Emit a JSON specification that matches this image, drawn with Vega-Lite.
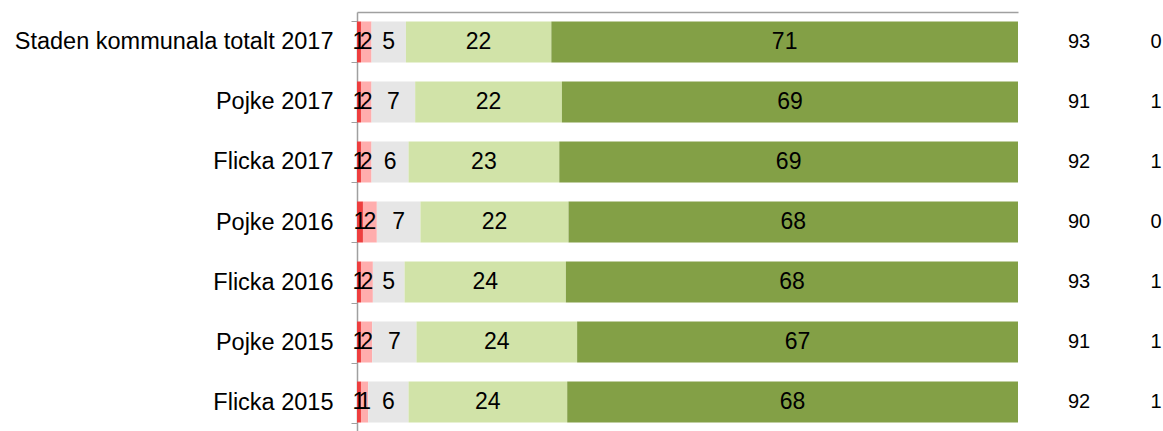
{
  "$schema": "https://vega.github.io/schema/vega-lite/v6.json",
  "padding": {"left": 14, "top": 0, "right": 0, "bottom": 0},
  "config": {"view": {"stroke": null}, "font": "Liberation Sans"},
  "spacing": 61,
  "bounds": "flush",
  "datasets": {
    "bars": [
      {"row": "Staden kommunala totalt 2017", "cat": "a", "order": 1, "value": 0.6},
      {"row": "Staden kommunala totalt 2017", "cat": "b", "order": 2, "value": 1.6},
      {"row": "Staden kommunala totalt 2017", "cat": "c", "order": 3, "value": 5.2},
      {"row": "Staden kommunala totalt 2017", "cat": "d", "order": 4, "value": 22.0},
      {"row": "Staden kommunala totalt 2017", "cat": "e", "order": 5, "value": 70.6},
      {"row": "Pojke 2017", "cat": "a", "order": 1, "value": 0.6},
      {"row": "Pojke 2017", "cat": "b", "order": 2, "value": 1.6},
      {"row": "Pojke 2017", "cat": "c", "order": 3, "value": 6.6},
      {"row": "Pojke 2017", "cat": "d", "order": 4, "value": 22.2},
      {"row": "Pojke 2017", "cat": "e", "order": 5, "value": 69.0},
      {"row": "Flicka 2017", "cat": "a", "order": 1, "value": 0.6},
      {"row": "Flicka 2017", "cat": "b", "order": 2, "value": 1.6},
      {"row": "Flicka 2017", "cat": "c", "order": 3, "value": 5.6},
      {"row": "Flicka 2017", "cat": "d", "order": 4, "value": 22.8},
      {"row": "Flicka 2017", "cat": "e", "order": 5, "value": 69.4},
      {"row": "Pojke 2016", "cat": "a", "order": 1, "value": 0.9},
      {"row": "Pojke 2016", "cat": "b", "order": 2, "value": 2.1},
      {"row": "Pojke 2016", "cat": "c", "order": 3, "value": 6.6},
      {"row": "Pojke 2016", "cat": "d", "order": 4, "value": 22.4},
      {"row": "Pojke 2016", "cat": "e", "order": 5, "value": 68.0},
      {"row": "Flicka 2016", "cat": "a", "order": 1, "value": 0.6},
      {"row": "Flicka 2016", "cat": "b", "order": 2, "value": 1.8},
      {"row": "Flicka 2016", "cat": "c", "order": 3, "value": 4.8},
      {"row": "Flicka 2016", "cat": "d", "order": 4, "value": 24.4},
      {"row": "Flicka 2016", "cat": "e", "order": 5, "value": 68.4},
      {"row": "Pojke 2015", "cat": "a", "order": 1, "value": 0.6},
      {"row": "Pojke 2015", "cat": "b", "order": 2, "value": 1.7},
      {"row": "Pojke 2015", "cat": "c", "order": 3, "value": 6.7},
      {"row": "Pojke 2015", "cat": "d", "order": 4, "value": 24.3},
      {"row": "Pojke 2015", "cat": "e", "order": 5, "value": 66.7},
      {"row": "Flicka 2015", "cat": "a", "order": 1, "value": 0.6},
      {"row": "Flicka 2015", "cat": "b", "order": 2, "value": 1.1},
      {"row": "Flicka 2015", "cat": "c", "order": 3, "value": 6.1},
      {"row": "Flicka 2015", "cat": "d", "order": 4, "value": 24.0},
      {"row": "Flicka 2015", "cat": "e", "order": 5, "value": 68.2}
    ],
    "table": [
      {"row": "Staden kommunala totalt 2017", "col": "total", "val": 93},
      {"row": "Staden kommunala totalt 2017", "col": "other", "val": 0},
      {"row": "Pojke 2017", "col": "total", "val": 91},
      {"row": "Pojke 2017", "col": "other", "val": 1},
      {"row": "Flicka 2017", "col": "total", "val": 92},
      {"row": "Flicka 2017", "col": "other", "val": 1},
      {"row": "Pojke 2016", "col": "total", "val": 90},
      {"row": "Pojke 2016", "col": "other", "val": 0},
      {"row": "Flicka 2016", "col": "total", "val": 93},
      {"row": "Flicka 2016", "col": "other", "val": 1},
      {"row": "Pojke 2015", "col": "total", "val": 91},
      {"row": "Pojke 2015", "col": "other", "val": 1},
      {"row": "Flicka 2015", "col": "total", "val": 92},
      {"row": "Flicka 2015", "col": "other", "val": 1}
    ]
  },
  "hconcat": [
    {
      "width": 661,
      "height": 420,
      "data": {"name": "bars"},
      "transform": [
        {"stack": "value", "groupby": ["row"], "sort": [{"field": "order", "order": "ascending"}], "as": ["v0", "v1"]},
        {"calculate": "(datum.v0 + datum.v1) / 2", "as": "mid"}
      ],
      "encoding": {
        "y": {
          "field": "row",
          "type": "nominal",
          "sort": ["Staden kommunala totalt 2017", "Pojke 2017", "Flicka 2017", "Pojke 2016", "Flicka 2016", "Pojke 2015", "Flicka 2015"],
          "scale": {"paddingInner": 0.317, "paddingOuter": 0.158},
          "axis": {
            "title": null,
            "tickBand": "extent",
            "tickSize": 6,
            "tickColor": "#a0a0a0",
            "domainColor": "#a0a0a0",
            "domainWidth": 1.5,
            "labelFontSize": 23.5,
            "labelColor": "#000000",
            "labelPadding": 18,
            "labelLimit": 500,
            "labelFont": "Liberation Sans"
          }
        }
      },
      "layer": [
        {
          "mark": {"type": "bar"},
          "encoding": {
            "x": {
              "field": "v0",
              "type": "quantitative",
              "scale": {"domain": [0, 100], "nice": false},
              "axis": {"orient": "top", "title": null, "labels": false, "ticks": false, "grid": false, "domainColor": "#a0a0a0", "domainWidth": 1.5}
            },
            "x2": {"field": "v1"},
            "color": {
              "field": "cat",
              "type": "nominal",
              "scale": {"domain": ["a", "b", "c", "d", "e"], "range": ["#ee3e3e", "#ffadad", "#e6e6e6", "#d1e3a8", "#83a046"]},
              "legend": null
            }
          }
        },
        {
          "mark": {"type": "text", "fontSize": 23, "color": "#000000", "font": "Liberation Sans"},
          "encoding": {
            "x": {"field": "mid", "type": "quantitative"},
            "text": {"field": "value", "type": "quantitative", "format": ".0f"}
          }
        }
      ]
    },
    {
      "width": 77,
      "height": 420,
      "data": {"name": "table"},
      "mark": {"type": "text", "fontSize": 20, "color": "#000000", "font": "Liberation Sans"},
      "encoding": {
        "y": {
          "field": "row",
          "type": "nominal",
          "sort": ["Staden kommunala totalt 2017", "Pojke 2017", "Flicka 2017", "Pojke 2016", "Flicka 2016", "Pojke 2015", "Flicka 2015"],
          "scale": {"paddingInner": 0.317, "paddingOuter": 0.158},
          "axis": null
        },
        "x": {"field": "col", "type": "nominal", "sort": ["total", "other"], "scale": {"type": "point", "padding": 0}, "axis": null},
        "text": {"field": "val", "type": "quantitative"}
      }
    }
  ]
}
